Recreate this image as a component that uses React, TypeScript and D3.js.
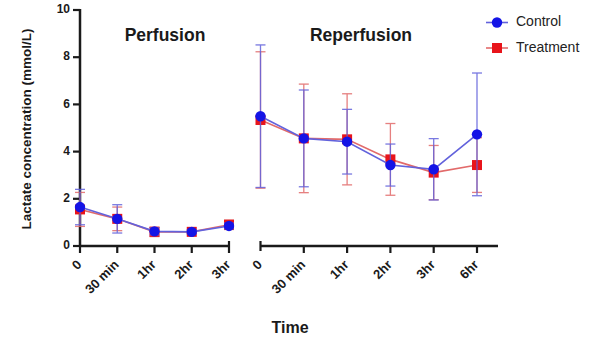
import * as d3 from "d3";

// Perfusion phase
const perfCats = ["0", "30 min", "1hr", "2hr", "3hr"];
const perfControl = [1.65, 1.15, 0.62, 0.6, 0.85];
const perfControlErr = [0.75, 0.6, 0.15, 0.08, 0.12];
const perfTreatment = [1.55, 1.15, 0.6, 0.6, 0.9];
const perfTreatmentErr = [0.72, 0.5, 0.2, 0.08, 0.2];

// Reperfusion phase
const reperfCats = ["0", "30 min", "1hr", "2hr", "3hr", "6hr"];
const reperfControl = [5.5, 4.56, 4.42, 3.43, 3.25, 4.73];
const reperfControlErr = [3.02, 2.05, 1.37, 0.89, 1.3, 2.6];
const reperfTreatment = [5.34, 4.56, 4.52, 3.67, 3.11, 3.43];
const reperfTreatmentErr = [2.89, 2.3, 1.93, 1.52, 1.15, 1.16];

const yTicks = [0, 2, 4, 6, 8, 10];

const W = 597;
const H = 341;
const BLUE = "#1414e6";
const BLUE_LINE = "#6262dc";
const RED = "#e8141b";
const RED_LINE = "#e26a6a";
const AXIS = "#1a1a1a";
const FONT = "Liberation Sans, Arial, sans-serif";

type Series = { vals: number[]; errs: number[]; color: string; lineColor: string; marker: "circle" | "square" };

function Panel({ cats, x, y, series }: { cats: string[]; x: d3.ScalePoint<string>; y: d3.ScaleLinear<number, number>; series: Series[] }) {
  const line = d3.line<number>().x((_, i) => x(cats[i])!).y((d) => y(d));
  return (
    <g>
      {series.map((s, si) => (
        <g key={si}>
          {s.vals.map((v, i) => {
            const cx = x(cats[i])!;
            const top = y(v + s.errs[i]);
            const bot = y(v - s.errs[i]);
            return (
              <g key={i} stroke={s.lineColor} strokeWidth={1.3} opacity={0.85}>
                <line x1={cx} x2={cx} y1={top} y2={bot} />
                <line x1={cx - 5} x2={cx + 5} y1={top} y2={top} />
                <line x1={cx - 5} x2={cx + 5} y1={bot} y2={bot} />
              </g>
            );
          })}
          <path d={line(s.vals)!} fill="none" stroke={s.lineColor} strokeWidth={1.6} />
          {s.vals.map((v, i) =>
            s.marker === "circle" ? (
              <circle key={i} cx={x(cats[i])!} cy={y(v)} r={5.2} fill={s.color} />
            ) : (
              <rect key={i} x={x(cats[i])! - 5} y={y(v) - 5} width={10} height={10} fill={s.color} />
            )
          )}
        </g>
      ))}
    </g>
  );
}

export default function App() {
  const y = d3.scaleLinear().domain([0, 10]).range([246, 10]);
  const xPerf = d3.scalePoint<string>().domain(perfCats).range([80, 229]);
  const xReperf = d3.scalePoint<string>().domain(reperfCats).range([260.5, 477]);
  const y0 = y(0);

  const perfSeries: Series[] = [
    { vals: perfTreatment, errs: perfTreatmentErr, color: RED, lineColor: RED_LINE, marker: "square" },
    { vals: perfControl, errs: perfControlErr, color: BLUE, lineColor: BLUE_LINE, marker: "circle" },
  ];
  const reperfSeries: Series[] = [
    { vals: reperfTreatment, errs: reperfTreatmentErr, color: RED, lineColor: RED_LINE, marker: "square" },
    { vals: reperfControl, errs: reperfControlErr, color: BLUE, lineColor: BLUE_LINE, marker: "circle" },
  ];

  const tickLabel = (x: number, t: string, k: string) => (
    <text
      key={k}
      transform={`translate(${x},${y0 + 17}) rotate(-45)`}
      textAnchor="end"
      dominantBaseline="middle"
      fontSize={13}
      fontWeight="bold"
      fill={AXIS}
    >
      {t}
    </text>
  );

  return (
    <div style={{ position: "absolute", left: 0, top: 0 }}>
      <svg width={W} height={H} fontFamily={FONT} style={{ display: "block", background: "#fff" }}>
        {/* Y axis */}
        <line x1={80} x2={80} y1={y(10) - 1} y2={y0 + 1} stroke={AXIS} strokeWidth={2.5} />
        {yTicks.map((t) => (
          <g key={t}>
            <line x1={73} x2={80} y1={y(t)} y2={y(t)} stroke={AXIS} strokeWidth={2.2} />
            <text x={70} y={y(t)} textAnchor="end" dominantBaseline="middle" fontSize={12} fontWeight="bold" fill={AXIS}>
              {t}
            </text>
          </g>
        ))}
        <text
          transform={`translate(31,${y(5) + 1}) rotate(-90)`}
          textAnchor="middle"
          fontSize={13.5}
          fontWeight="bold"
          fill={AXIS}
        >
          Lactate concentration (mmol/L)
        </text>

        {/* Perfusion x axis */}
        <line x1={79} x2={229} y1={y0} y2={y0} stroke={AXIS} strokeWidth={2.5} />
        {perfCats.map((c, i) => (
          <g key={c}>
            <line x1={xPerf(c)!} x2={xPerf(c)!} y1={i === perfCats.length - 1 ? y0 - 5 : y0} y2={y0 + 7} stroke={AXIS} strokeWidth={2.2} />
            {tickLabel(xPerf(c)!, c, "p" + c)}
          </g>
        ))}

        {/* Reperfusion x axis */}
        <line x1={260.5} x2={498} y1={y0} y2={y0} stroke={AXIS} strokeWidth={2.5} />
        <line x1={260.5} x2={260.5} y1={y0 - 5} y2={y0 + 5} stroke={AXIS} strokeWidth={2.2} />
        {reperfCats.map((c) => (
          <g key={c}>
            {c !== "0" && <line x1={xReperf(c)!} x2={xReperf(c)!} y1={y0} y2={y0 + 7} stroke={AXIS} strokeWidth={2.2} />}
            {tickLabel(xReperf(c)!, c, "r" + c)}
          </g>
        ))}

        <Panel cats={perfCats} x={xPerf} y={y} series={perfSeries} />
        <Panel cats={reperfCats} x={xReperf} y={y} series={reperfSeries} />

        {/* Titles */}
        <text x={165} y={41} textAnchor="middle" fontSize={17.5} fontWeight="bold" fill={AXIS}>
          Perfusion
        </text>
        <text x={361} y={41} textAnchor="middle" fontSize={17.5} fontWeight="bold" fill={AXIS}>
          Reperfusion
        </text>
        <text x={290} y={333} textAnchor="middle" fontSize={16} fontWeight="bold" fill={AXIS}>
          Time
        </text>

        {/* Legend */}
        <line x1={486} x2={508} y1={22.5} y2={22.5} stroke={BLUE_LINE} strokeWidth={1.6} />
        <circle cx={497} cy={22.5} r={5.2} fill={BLUE} />
        <text x={516} y={22.5} dominantBaseline="middle" fontSize={14} fill="#222">
          Control
        </text>
        <line x1={486} x2={508} y1={48} y2={48} stroke={RED_LINE} strokeWidth={1.6} />
        <rect x={492} y={43} width={10} height={10} fill={RED} />
        <text x={516} y={48} dominantBaseline="middle" fontSize={14} fill="#222">
          Treatment
        </text>
      </svg>
    </div>
  );
}
